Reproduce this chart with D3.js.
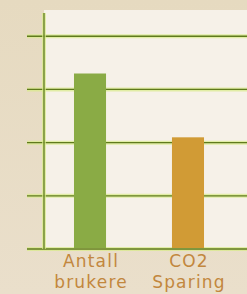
<!DOCTYPE html>
<html>
<head>
<meta charset="utf-8">
<script src="https://cdn.jsdelivr.net/npm/d3@7"></script>
<style>
  html, body { margin: 0; padding: 0; background: #e7dcc6; }
  svg { display: block; }
</style>
</head>
<body>
<svg id="chart"></svg>
<script>
  // Data
  var categories = ['Antall brukere', 'CO2 Sparing']
  var values = [3.3, 2.1]
  var barColors = ['#8aab45', '#d19b35']
  var yTicks = [0, 1, 2, 3, 4]

  var WIDTH = 247
  var HEIGHT = 294
  var margin = { top: 15, right: 0, bottom: 45, left: 44 }

  var svg = d3.select('#chart')
    .attr('width', WIDTH)
    .attr('height', HEIGHT)

  // background gradient for outer frame
  var defs = svg.append('defs')
  var bg = defs.append('linearGradient').attr('id', 'bg').attr('x1', 0).attr('x2', 0).attr('y1', 0).attr('y2', 1)
  bg.append('stop').attr('offset', '0%').attr('stop-color', '#e6dac0')
  bg.append('stop').attr('offset', '100%').attr('stop-color', '#eadfcb')
  svg.append('rect').attr('width', WIDTH).attr('height', HEIGHT).attr('fill', 'url(#bg)')

  var y = d3.scaleLinear().domain([0, 4.4]).range([HEIGHT - margin.bottom, margin.top])
  var x = d3.scaleBand().domain(categories).range([25, 253]).paddingInner(0.673).paddingOuter(0.5)

  // plot area
  svg.append('rect')
    .attr('x', margin.left)
    .attr('y', 10)
    .attr('width', WIDTH - margin.left)
    .attr('height', y(0) - 10)
    .attr('fill', '#f6f1e8')

  // grid lines with glow
  var grid = svg.append('g').classed('grid', true)
  grid.selectAll('line.glow')
    .data(yTicks)
    .enter().append('line')
    .attr('class', 'glow')
    .attr('x1', 27).attr('x2', WIDTH)
    .attr('y1', function (d) { return y(d) }).attr('y2', function (d) { return y(d) })
    .attr('stroke', '#d9ec8a').attr('stroke-width', 4).attr('opacity', 0.7)
  grid.selectAll('line.main')
    .data(yTicks)
    .enter().append('line')
    .attr('class', 'main')
    .attr('x1', 27).attr('x2', WIDTH)
    .attr('y1', function (d) { return y(d) }).attr('y2', function (d) { return y(d) })
    .attr('stroke', '#5f7a1c').attr('stroke-width', 1.3)

  // y axis line
  svg.append('line')
    .attr('x1', margin.left).attr('x2', margin.left)
    .attr('y1', 13).attr('y2', y(0))
    .attr('stroke', '#d9ec8a').attr('stroke-width', 4).attr('opacity', 0.7)
  svg.append('line')
    .attr('x1', margin.left).attr('x2', margin.left)
    .attr('y1', 13).attr('y2', y(0))
    .attr('stroke', '#5f7a1c').attr('stroke-width', 1.3)

  // bars
  svg.append('g').selectAll('rect')
    .data(values)
    .enter().append('rect')
    .attr('x', function (d, i) { return x(categories[i]) })
    .attr('y', function (d) { return y(d) })
    .attr('width', x.bandwidth())
    .attr('height', function (d) { return y(0) - y(d) - 1 })
    .attr('fill', function (d, i) { return barColors[i] })

  // category labels
  var labels = svg.append('g').selectAll('text')
    .data(categories)
    .enter().append('text')
    .attr('x', function (d) { return x(d) + x.bandwidth() / 2 + 1 })
    .attr('y', 267)
    .attr('text-anchor', 'middle')
    .attr('font-family', 'DejaVu Sans, Verdana, sans-serif')
    .attr('font-size', 17)
    .attr('letter-spacing', 1.2)
    .attr('fill', '#c2873e')
  labels.each(function (d) {
    var parts = d.split(' ')
    var t = d3.select(this)
    parts.forEach(function (p, i) {
      t.append('tspan')
        .attr('x', t.attr('x'))
        .attr('dy', i === 0 ? 0 : 21)
        .text(p)
    })
  })
</script>
</body>
</html>
